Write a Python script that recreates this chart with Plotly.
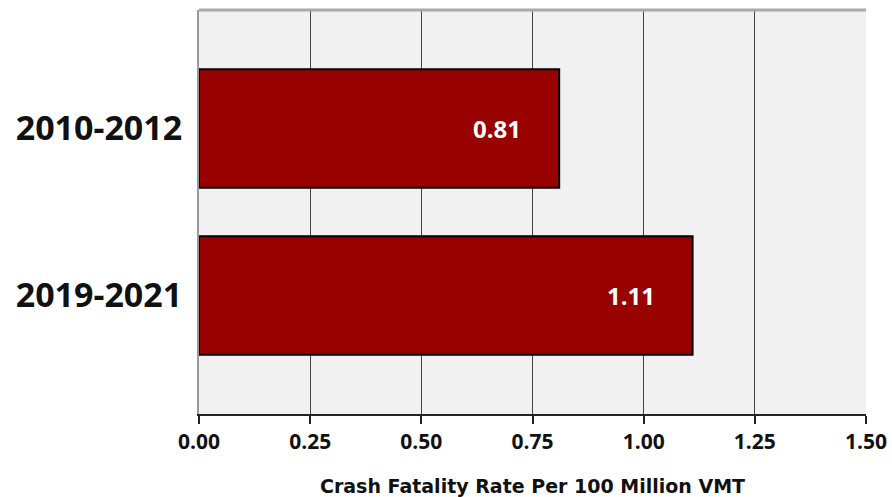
import plotly.graph_objects as go

categories = ["2010-2012", "2019-2021"]
values = [0.81, 1.11]
x_ticks = [0, 0.25, 0.5, 0.75, 1.0, 1.25, 1.5]
x_tick_labels = ["0.00", "0.25", "0.50", "0.75", "1.00", "1.25", "1.50"]

BAR = "#990000"
FONT = "Open Sans"

fig = go.Figure()
fig.add_trace(go.Bar(
    y=categories, x=values, orientation="h",
    marker=dict(color=BAR, line=dict(color="#000000", width=2)),
    width=0.71, hoverinfo="skip",
))

for c, v in zip(categories, values):
    fig.add_annotation(
        x=v, y=c, xref="x", yref="y", text=f"<b>{v:.2f}</b>",
        showarrow=False, xanchor="right", xshift=-36,
        font=dict(family=FONT, size=24, color="white"),
    )

fig.update_layout(
    width=892, height=497,
    margin=dict(l=199, r=26, t=10, b=83),
    paper_bgcolor="white", plot_bgcolor="#f1f1f1",
    showlegend=False,
    xaxis=dict(
        range=[0, 1.5], tickvals=x_ticks, ticktext=x_tick_labels,
        showgrid=True, gridcolor="#444444", gridwidth=1.2,
        zeroline=False, automargin=False,
        showline=True, linecolor="#222222", linewidth=2,
        ticks="outside", ticklen=8, tickcolor="#222222", tickwidth=1.5,
        tickfont=dict(family=FONT, size=21, color="#111111", weight="bold"),
        title=dict(text="Crash Fatality Rate Per 100 Million VMT",
                   font=dict(family="DejaVu Sans", size=19, color="#111111", weight="bold"),
                   standoff=26),
        fixedrange=True,
    ),
    yaxis=dict(
        categoryorder="array", categoryarray=categories[::-1],
        range=[-0.71, 1.71], automargin=False,
        showgrid=False, zeroline=False,
        showline=True, linecolor="#999999", linewidth=2,
        ticks="", ticklabelstandoff=8,
        tickfont=dict(family=FONT, size=34, color="#111111", weight="bold"),
        fixedrange=True,
    ),
    shapes=[dict(type="line", xref="paper", yref="paper", x0=0, x1=1, y0=1, y1=1,
                 line=dict(color="#aaaaaa", width=3), layer="above")],
)

fig.write_html("out.html", config={"displayModeBar": False},
               post_script="document.body.style.margin='0';document.body.style.overflow='hidden';")
